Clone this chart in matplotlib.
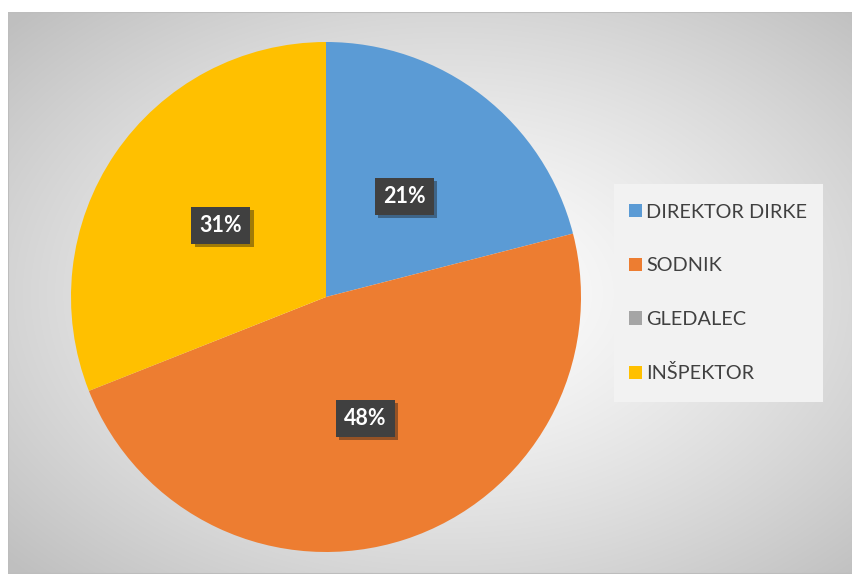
import numpy as np
import matplotlib
matplotlib.use("Agg")
import matplotlib.pyplot as plt
import matplotlib.patheffects as pe
from matplotlib.patches import Rectangle

categories = ["DIREKTOR DIRKE", "SODNIK", "GLEDALEC", "INŠPEKTOR"]
values = [21, 48, 0, 31]
colors = ["#5B9BD5", "#ED7D31", "#A5A5A5", "#FFC000"]

W, H = 853, 574
fig = plt.figure(figsize=(W / 100, H / 100), dpi=100)
fig.patch.set_facecolor("white")

# background with radial gradient
bx0, by0 = 8, 12
bg = fig.add_axes([bx0 / W, 0, 1 - bx0 / W, 1 - by0 / H])
bg.set_axis_off()
ny, nx = 300, 450
yy, xx = np.mgrid[0:ny, 0:nx]
cx, cy = 0.52 * nx, 0.50 * ny
d = np.sqrt(((xx - cx) / (nx / 2)) ** 2 + ((yy - cy) / (ny / 2)) ** 2) / np.sqrt(2)
v = 1.0 - 0.25 * np.clip(d, 0, 1) ** 1.3
img = np.dstack([v, v, v])
bg.imshow(img, aspect="auto", extent=[0, 1, 0, 1], interpolation="bilinear")
bg.add_patch(Rectangle((0, 0), 1, 1, transform=bg.transAxes, fill=False,
                       edgecolor="#bdbdbd", lw=1.5))
bg.set_xlim(0, 1)
bg.set_ylim(0, 1)

# legend background box
fig.add_artist(Rectangle((614 / W, 1 - 402 / H), (823 - 614) / W, (402 - 184) / H,
                         transform=fig.transFigure, facecolor="#f2f2f2",
                         edgecolor="none", zorder=1))

# pie
pcx, pcy, R = 326, 297, 255
ax = fig.add_axes([(pcx - R) / W, (H - pcy - R) / H, 2 * R / W, 2 * R / H])
wedges, _ = ax.pie(values, colors=colors, startangle=90, counterclock=False,
                   radius=1.0, wedgeprops=dict(linewidth=0))
ax.set_xlim(-1, 1)
ax.set_ylim(-1, 1)
ax.set_aspect("equal")
ax.set_axis_off()

total = sum(values)
for w, val in zip(wedges, values):
    if val == 0:
        continue
    mid = np.deg2rad((w.theta1 + w.theta2) / 2)
    x, y = 0.5 * np.cos(mid), 0.5 * np.sin(mid)
    t = ax.text(x, y, f"{round(100 * val / total)}%", ha="center", va="center",
                color="white", fontsize=15.5, fontweight="bold", family="Lato",
                bbox=dict(boxstyle="square,pad=0.38", facecolor="#404040",
                          edgecolor="none"))
    t.get_bbox_patch().set_path_effects(
        [pe.SimplePatchShadow(offset=(2.5, -2.5), alpha=0.4), pe.Normal()])

# legend
leg = fig.legend(wedges, categories, loc="center left",
                 bbox_to_anchor=(629 / W, 1 - 293 / H),
                 frameon=False,
                 prop=dict(family="Lato", size=14.3),
                 labelcolor="#404040", handlelength=0.66, handleheight=0.66,
                 handletextpad=0.22, labelspacing=1.845, borderpad=0,
                 borderaxespad=0)
leg.set_zorder(5)

fig.savefig("out.png", dpi=100, facecolor=fig.get_facecolor())
